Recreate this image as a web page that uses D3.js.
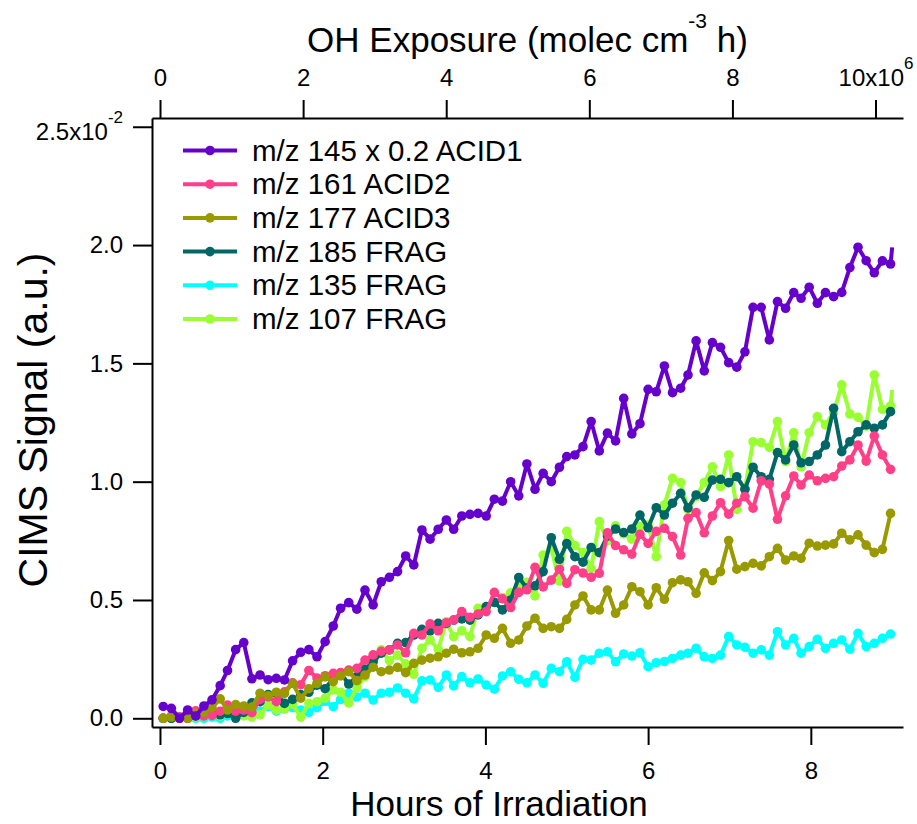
<!DOCTYPE html>
<html>
<head>
<meta charset="utf-8">
<script src="https://cdn.jsdelivr.net/npm/d3@7"></script>
<style>
body { margin: 0; background: #fff; }
svg { display: block; font-family: "Liberation Sans", Arial, sans-serif; }
</style>
</head>
<body>
<div id="chart"></div>
<script>
// hours of irradiation (last entry only used by traces that end without a marker)
const hours = [0.04,0.14,0.24,0.34,0.44,0.54,0.64,0.74,0.83,0.93,
  1.03,1.13,1.23,1.33,1.43,1.53,1.63,1.73,1.83,1.93,
  2.03,2.13,2.22,2.32,2.42,2.52,2.62,2.72,2.82,2.92,
  3.02,3.12,3.22,3.32,3.42,3.52,3.61,3.71,3.81,3.91,
  4.01,4.11,4.21,4.31,4.41,4.51,4.61,4.71,4.81,4.91,
  5.00,5.10,5.20,5.30,5.40,5.50,5.60,5.70,5.80,5.90,
  6.00,6.10,6.20,6.30,6.40,6.49,6.59,6.69,6.79,6.89,
  6.99,7.09,7.19,7.29,7.39,7.49,7.59,7.69,7.79,7.88,
  7.98,8.08,8.18,8.28,8.38,8.48,8.58,8.68,8.78,8.88,
  8.98,9.00];
const nMarkers = 91;

// CIMS signal, units of 1e-2
const acid1 = [0.050,0.042,0.000,0.035,0.010,0.052,0.078,0.138,0.202,0.290,
  0.320,0.167,0.183,0.163,0.169,0.162,0.243,0.279,0.290,0.260,
  0.324,0.390,0.465,0.489,0.461,0.542,0.479,0.577,0.596,0.620,
  0.686,0.648,0.796,0.757,0.799,0.838,0.799,0.855,0.862,0.866,
  0.855,0.926,0.918,1.000,0.940,1.075,0.968,1.035,1.000,1.061,
  1.106,1.113,1.148,1.254,1.130,1.205,1.172,1.352,1.202,1.245,
  1.390,1.380,1.489,1.376,1.395,1.451,1.595,1.468,1.588,1.568,
  1.503,1.484,1.549,1.737,1.737,1.599,1.761,1.733,1.799,1.775,
  1.822,1.754,1.799,1.782,1.800,1.905,1.991,1.934,1.883,1.933,
  1.920,1.990];
const acid2 = [0.000,0.010,0.005,0.000,0.032,0.010,0.012,0.030,0.056,0.030,
  0.035,0.024,0.080,0.091,0.070,0.112,0.150,0.142,0.202,0.170,
  0.180,0.190,0.193,0.204,0.211,0.246,0.268,0.283,0.289,0.310,
  0.277,0.359,0.352,0.399,0.370,0.404,0.415,0.451,0.427,0.441,
  0.451,0.532,0.505,0.468,0.532,0.543,0.638,0.555,0.584,0.630,
  0.570,0.628,0.614,0.596,0.613,0.784,0.730,0.712,0.694,0.778,
  0.739,0.790,0.803,0.768,0.690,0.845,0.869,0.784,0.855,0.911,
  0.863,0.909,0.937,0.888,1.004,0.990,0.841,0.940,1.024,0.986,
  1.028,1.004,1.014,1.021,1.066,1.092,1.155,1.087,1.193,1.113,
  1.052];
const acid3 = [0.000,0.005,0.000,0.000,0.020,0.025,0.045,0.082,0.035,0.058,
  0.052,0.048,0.106,0.095,0.110,0.105,0.148,0.085,0.125,0.147,
  0.175,0.155,0.179,0.197,0.159,0.183,0.216,0.197,0.204,0.215,
  0.193,0.232,0.246,0.254,0.260,0.275,0.292,0.277,0.281,0.296,
  0.352,0.338,0.380,0.317,0.331,0.390,0.423,0.380,0.387,0.380,
  0.418,0.479,0.517,0.458,0.458,0.542,0.444,0.479,0.556,0.535,
  0.479,0.552,0.503,0.573,0.585,0.577,0.528,0.615,0.582,0.620,
  0.751,0.630,0.641,0.655,0.644,0.683,0.718,0.669,0.686,0.676,
  0.740,0.728,0.732,0.737,0.782,0.754,0.775,0.732,0.700,0.714,
  0.866];
const frag185 = [0.000,0.000,0.005,0.000,0.010,0.015,0.020,0.015,0.020,0.000,
  0.025,0.065,0.070,0.100,0.105,0.063,0.080,0.100,0.110,0.140,
  0.125,0.169,0.190,0.145,0.176,0.207,0.239,0.275,0.289,0.317,
  0.320,0.352,0.376,0.370,0.401,0.401,0.415,0.420,0.415,0.437,
  0.472,0.490,0.458,0.500,0.595,0.550,0.560,0.620,0.763,0.672,
  0.738,0.683,0.660,0.722,0.700,0.770,0.800,0.785,0.800,0.859,
  0.805,0.890,0.859,0.909,0.951,0.889,0.944,0.934,1.007,1.010,
  0.996,1.021,0.968,1.061,1.021,1.010,1.123,1.092,1.155,1.080,
  1.085,1.113,1.155,1.310,1.127,1.169,1.211,1.240,1.226,1.240,
  1.296];
const frag135 = [0.000,0.000,0.000,0.005,0.000,0.000,0.005,0.000,0.010,0.005,
  0.012,0.020,0.030,0.049,0.030,0.040,0.045,0.035,0.025,0.045,
  0.072,0.049,0.080,0.106,0.090,0.106,0.077,0.106,0.110,0.128,
  0.106,0.082,0.158,0.162,0.131,0.183,0.137,0.176,0.150,0.166,
  0.141,0.123,0.179,0.197,0.165,0.150,0.183,0.148,0.211,0.197,
  0.239,0.173,0.249,0.246,0.275,0.281,0.239,0.272,0.263,0.277,
  0.218,0.235,0.240,0.253,0.267,0.275,0.296,0.260,0.253,0.267,
  0.345,0.310,0.300,0.275,0.289,0.267,0.366,0.310,0.338,0.275,
  0.303,0.334,0.296,0.317,0.331,0.292,0.359,0.303,0.317,0.338,
  0.356];
const frag107 = [0.000,0.005,0.000,0.010,0.005,0.010,0.015,0.010,0.020,0.015,
  0.010,0.005,0.015,0.055,0.035,0.040,0.060,0.005,0.063,0.070,
  0.085,0.120,0.110,0.065,0.130,0.176,0.218,0.289,0.244,0.267,
  0.230,0.186,0.296,0.331,0.292,0.408,0.345,0.370,0.345,0.465,
  0.470,0.490,0.510,0.530,0.560,0.575,0.517,0.690,0.718,0.580,
  0.790,0.730,0.700,0.634,0.831,0.750,0.813,0.780,0.757,0.810,
  0.817,0.683,0.902,1.014,0.996,0.883,0.937,0.996,1.063,0.979,
  1.113,0.883,0.968,1.169,1.165,1.145,1.254,1.085,1.207,1.063,
  1.207,1.275,1.240,1.292,1.409,1.286,1.272,1.235,1.451,1.306,
  1.320,1.388];

const seriesNames = ["m/z 145 x 0.2 ACID1", "m/z 161 ACID2", "m/z 177 ACID3",
  "m/z 185 FRAG", "m/z 135 FRAG", "m/z 107 FRAG"];
const seriesValues = [acid1, acid2, acid3, frag185, frag135, frag107];
const seriesColors = ["#6600cc", "#ff3f88", "#999900", "#006666", "#00ffff", "#99ff33"];
const drawOrder = [4, 5, 3, 1, 2, 0];

const yTicks = [0, 0.5, 1, 1.5, 2, 2.5];
const xTicks = [0, 2, 4, 6, 8];
const ohTicks = [0, 2e6, 4e6, 6e6, 8e6, 10e6];

const width = 917, height = 824;
const plot = {left: 152, right: 903, top: 118, bottom: 727};

const svg = d3.select("#chart").append("svg")
  .attr("width", width)
  .attr("height", height);

const x = d3.scaleLinear().domain([-0.098, 9.133]).range([plot.left, plot.right]);
const xTop = d3.scaleLinear().domain([-0.112e6, 10.384e6]).range([plot.left, plot.right]);
const y = d3.scaleLinear().domain([-0.0368, 2.537]).range([plot.bottom, plot.top]);

function styleAxis(g) {
  g.attr("font-family", null).attr("font-size", null);
  g.selectAll("path, line").attr("stroke", "#000").attr("stroke-width", 2);
  g.selectAll("text").attr("fill", "#000").style("font-size", "24px");
}

// bottom axis
svg.append("g")
  .attr("transform", `translate(0,${plot.bottom})`)
  .call(d3.axisBottom(x).tickValues(xTicks).tickSize(18).tickSizeOuter(0)
    .tickPadding(17).tickFormat(d3.format("d")))
  .call(styleAxis);

// top axis (OH exposure)
const gTop = svg.append("g")
  .attr("transform", `translate(0,${plot.top})`)
  .call(d3.axisTop(xTop).tickValues(ohTicks).tickSize(18).tickSizeOuter(0)
    .tickPadding(14).tickFormat(d => d / 1e6))
  .call(styleAxis);
gTop.selectAll(".tick text").filter(d => d === 10e6).each(function () {
  const t = d3.select(this).text("");
  t.append("tspan").text("10x10");
  t.append("tspan").attr("dy", -17).style("font-size", "17px").text("6");
});

// left axis
const gLeft = svg.append("g")
  .attr("transform", `translate(${plot.left},0)`)
  .call(d3.axisLeft(y).tickValues(yTicks).tickSize(19).tickSizeOuter(0)
    .tickPadding(10).tickFormat(d3.format(".1f")))
  .call(styleAxis);
gLeft.selectAll(".tick text").filter(d => d === 2.5).each(function () {
  const t = d3.select(this).text("").attr("dy", "0.55em");
  t.append("tspan").text("2.5x10");
  t.append("tspan").attr("dy", -17).style("font-size", "17px").text("-2");
});

// axis titles
const topTitle = svg.append("text")
  .attr("x", (plot.left + plot.right) / 2)
  .attr("y", 52)
  .attr("text-anchor", "middle")
  .style("font-size", "35px");
topTitle.append("tspan").text("OH Exposure (molec cm");
topTitle.append("tspan").attr("dy", -24).style("font-size", "21px").text("-3");
topTitle.append("tspan").attr("dy", 24).text(" h)");

svg.append("text")
  .attr("x", 499)
  .attr("y", 816)
  .attr("text-anchor", "middle")
  .style("font-size", "35px")
  .text("Hours of Irradiation");

svg.append("text")
  .attr("transform", "translate(47,420) rotate(-90)")
  .attr("text-anchor", "middle")
  .style("font-size", "41px")
  .text("CIMS Signal (a.u.)");

// traces
const line = d3.line()
  .x((d, i) => x(hours[i]))
  .y(d => y(d));

const traces = svg.append("g");
drawOrder.forEach(s => {
  const g = traces.append("g");
  g.append("path")
    .datum(seriesValues[s])
    .attr("d", line)
    .attr("fill", "none")
    .attr("stroke", seriesColors[s])
    .attr("stroke-width", 4)
    .attr("stroke-linejoin", "round");
  g.selectAll("circle")
    .data(seriesValues[s].slice(0, nMarkers))
    .join("circle")
    .attr("cx", (d, i) => x(hours[i]))
    .attr("cy", d => y(d))
    .attr("r", 4.8)
    .attr("fill", seriesColors[s]);
});

// legend
const legend = svg.append("g");
seriesNames.forEach((name, i) => {
  const ly = 150.5 + i * 33.7;
  legend.append("line")
    .attr("x1", 183).attr("x2", 237)
    .attr("y1", ly).attr("y2", ly)
    .attr("stroke", seriesColors[i])
    .attr("stroke-width", 4);
  legend.append("circle")
    .attr("cx", 210).attr("cy", ly).attr("r", 4.8)
    .attr("fill", seriesColors[i]);
  legend.append("text")
    .attr("x", 252).attr("y", ly + 10)
    .style("font-size", "29.5px")
    .text(name);
});
</script>
</body>
</html>
